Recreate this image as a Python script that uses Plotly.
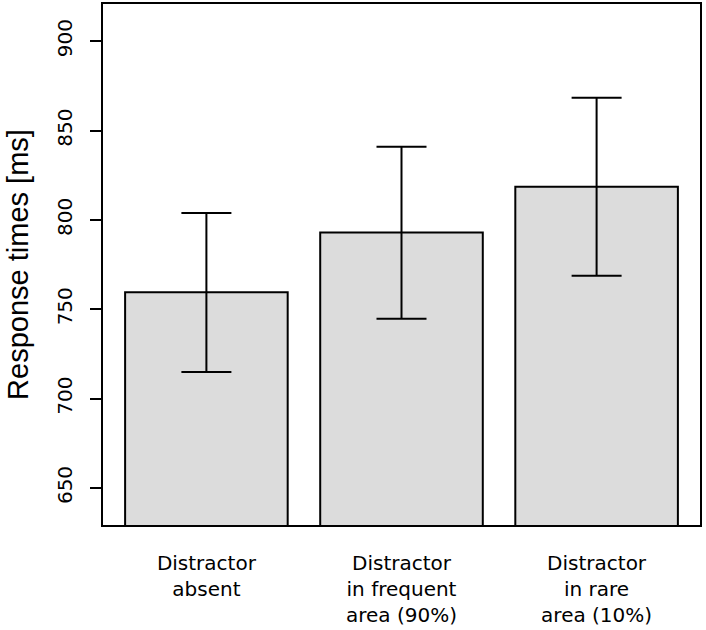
import plotly.graph_objects as go

categories = ["Distractor<br>absent", "Distractor<br>in frequent<br>area (90%)", "Distractor<br>in rare<br>area (10%)"]
bar_positions = [0.7, 1.9, 3.1]
mean_rt = [759.5, 793.0, 818.6]
err_upper = [44.4, 48.0, 49.8]
err_lower = [44.6, 48.3, 49.9]
y_tickvals = [650, 700, 750, 800, 850, 900]

TITLE_FONT = "Liberation Sans, Arial, Helvetica, sans-serif"
TICK_FONT = "DejaVu Sans, Liberation Sans, Arial, sans-serif"

fig = go.Figure()
fig.add_trace(go.Bar(
    x=bar_positions,
    y=mean_rt,
    width=1.0,
    marker=dict(color="#DCDCDC", line=dict(color="black", width=2)),
    error_y=dict(type="data", symmetric=False, array=err_upper, arrayminus=err_lower,
                 color="black", thickness=2, width=25),
    hoverinfo="skip",
))

fig.update_layout(
    width=706, height=630,
    margin=dict(l=103, r=6, t=4, b=105),
    paper_bgcolor="white", plot_bgcolor="white",
    showlegend=False,
    font=dict(family=TICK_FONT, color="black"),
)
fig.update_xaxes(
    range=[0.064, 3.736],
    tickvals=bar_positions, ticktext=categories,
    showgrid=False, zeroline=False,
    showline=True, mirror=True, linecolor="black", linewidth=2,
    ticks="", tickfont=dict(size=20, family=TICK_FONT, color="black"),
    ticklabelstandoff=19,
    automargin=False,
)
fig.update_yaxes(
    range=[629.3, 920.8],
    tickvals=y_tickvals,
    showgrid=False, zeroline=False,
    showline=True, mirror=True, linecolor="black", linewidth=2,
    ticks="outside", ticklen=11, tickwidth=2, tickcolor="black",
    tickangle=-90, tickfont=dict(size=20, family=TICK_FONT, color="black"),
    ticklabelstandoff=10,
    title=dict(text="Response times [ms]", font=dict(size=29, family=TITLE_FONT, color="black"), standoff=16),
    automargin=False,
)

fig.write_html("out.html", config={"displayModeBar": False},
               post_script="document.body.style.margin='0';")
